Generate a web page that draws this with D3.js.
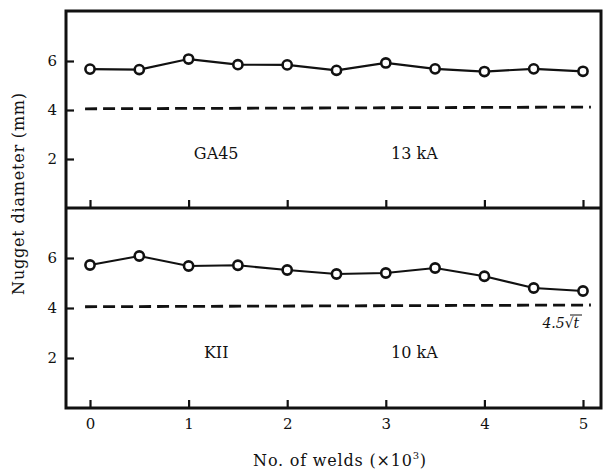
<!DOCTYPE html>
<html>
<head>
<meta charset="utf-8">
<script src="https://cdn.jsdelivr.net/npm/d3@7"></script>
<style>
  body { margin: 0; background: #fff; }
  svg text { font-family: "DejaVu Serif", "Liberation Serif", serif !important; fill: #111; }
</style>
</head>
<body>
<div id="chart-area"></div>
<script>
// data
const welds = [0, 0.5, 1, 1.5, 2, 2.5, 3, 3.5, 4, 4.5, 5];          // x 10^3
const ga45Diameter = [5.67, 5.65, 6.08, 5.85, 5.84, 5.62, 5.92, 5.68, 5.57, 5.68, 5.58];
const kiiDiameter  = [5.72, 6.08, 5.68, 5.71, 5.52, 5.36, 5.40, 5.60, 5.27, 4.80, 4.68];
const limitX = [-0.05, 5.08];
const limitY = [4.05, 4.12];          // 4.5 sqrt(t) limit
const xTicks = [0, 1, 2, 3, 4, 5];
const yTicks = [2, 4, 6];
const panels = [
  {name: "GA45", current: "13 kA", values: ga45Diameter},
  {name: "KII", current: "10 kA", values: kiiDiameter}
];

const svgWidth = 610, svgHeight = 472;
const frame = {left: 66, right: 601, top: 11, mid: 208, bottom: 408};

const svg = d3.select("#chart-area").append("svg")
  .attr("width", svgWidth)
  .attr("height", svgHeight);

const x = d3.scaleLinear().domain([0, 5]).range([90, 583]);
const yScales = [
  d3.scaleLinear().domain([0, 8]).range([frame.mid, frame.top + 1]),
  d3.scaleLinear().domain([0, 8]).range([frame.bottom, frame.mid])
];

const line = d3.line();

panels.forEach((p, i) => {
  const y = yScales[i];
  const g = svg.append("g");

  // y axis ticks (inside)
  const yAxis = g.append("g")
    .attr("transform", `translate(${frame.left},0)`)
    .call(d3.axisLeft(y).tickValues(yTicks).tickSize(-8).tickPadding(9));
  yAxis.select(".domain").remove();
  yAxis.selectAll("line").attr("stroke", "#111").attr("stroke-width", 2.2);
  yAxis.selectAll("text").attr("font-size", "15px");

  // x axis ticks (inside, pointing up)
  const xAxis = g.append("g")
    .attr("transform", `translate(0,${y(0)})`)
    .call(d3.axisBottom(x).tickValues(xTicks).tickSize(-8).tickPadding(10)
      .tickFormat(i === 1 ? d3.format("d") : ""));
  xAxis.select(".domain").remove();
  xAxis.selectAll("line").attr("stroke", "#111").attr("stroke-width", 2.2);
  xAxis.selectAll("text").attr("font-size", "15px");

  // limit line
  g.append("path")
    .attr("d", line([[x(limitX[0]), y(limitY[0])], [x(limitX[1]), y(limitY[1])]]))
    .attr("fill", "none")
    .attr("stroke", "#111")
    .attr("stroke-width", 2.8)
    .attr("stroke-dasharray", "12,6");

  // data line
  g.append("path")
    .attr("d", line(welds.map((w, k) => [x(w), y(p.values[k])])))
    .attr("fill", "none")
    .attr("stroke", "#111")
    .attr("stroke-width", 2.2);

  g.selectAll("circle").data(p.values).enter().append("circle")
    .attr("cx", (d, k) => x(welds[k]))
    .attr("cy", d => y(d))
    .attr("r", 4.6)
    .attr("fill", "#fff")
    .attr("stroke", "#111")
    .attr("stroke-width", 2.6);

  g.append("text")
    .attr("x", x(1.28))
    .attr("y", y(2))
    .attr("text-anchor", "middle")
    .attr("font-size", "16px")
    .text(p.name);

  g.append("text")
    .attr("x", x(3.29))
    .attr("y", y(2))
    .attr("text-anchor", "middle")
    .attr("font-size", "16px")
    .text(p.current);
});

// 4.5 sqrt(t) label
const lbl = svg.append("text")
  .attr("x", x(4.99))
  .attr("y", yScales[1](3.2))
  .attr("text-anchor", "end")
  .attr("font-size", "14px")
  .attr("font-style", "italic");
lbl.append("tspan").text("4.5\u221A");
lbl.append("tspan").text("t\u2009");
svg.append("line")
  .attr("x1", x(4.99) - 12).attr("x2", x(4.99))
  .attr("y1", yScales[1](3.2) - 13).attr("y2", yScales[1](3.2) - 13)
  .attr("stroke", "#111").attr("stroke-width", 1);

// frames
svg.append("rect")
  .attr("x", frame.left).attr("y", frame.top)
  .attr("width", frame.right - frame.left).attr("height", frame.bottom - frame.top)
  .attr("fill", "none").attr("stroke", "#111").attr("stroke-width", 3);
svg.append("line")
  .attr("x1", frame.left).attr("x2", frame.right)
  .attr("y1", frame.mid).attr("y2", frame.mid)
  .attr("stroke", "#111").attr("stroke-width", 3);

// axis labels
svg.append("text")
  .attr("transform", `translate(24,${(frame.top + frame.bottom) / 2 - 16}) rotate(-90)`)
  .attr("text-anchor", "middle")
  .attr("font-size", "16px")
  .attr("letter-spacing", "0.8px")
  .text("Nugget diameter (mm)");

const xl = svg.append("text")
  .attr("x", 340)
  .attr("y", 466)
  .attr("text-anchor", "middle")
  .attr("font-size", "16px")
  .attr("letter-spacing", "0.8px")
  .text("No. of  welds (\u00D710");
xl.append("tspan").attr("dy", -7).attr("font-size", "10px").text("3");
xl.append("tspan").attr("dy", 7).text(")");
</script>
</body>
</html>
